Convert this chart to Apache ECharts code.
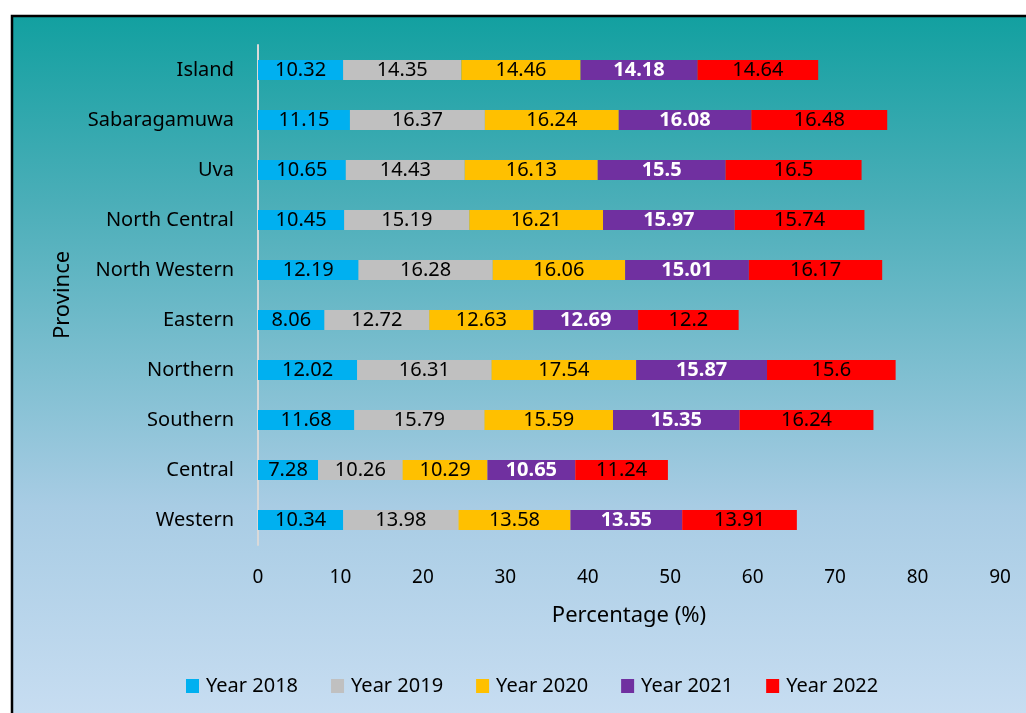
<!DOCTYPE html>
<html>
<head>
<meta charset="utf-8">
<script src="https://cdn.jsdelivr.net/npm/echarts@6/dist/echarts.min.js"></script>
<style>
html, body { margin:0; padding:0; background:#fff; }
#main { width:1026px; height:713px; }
</style>
</head>
<body>
<div id="main"></div>
<script>
// provinces, bottom to top as on the axis
var provinces = ['Western','Central','Southern','Northern','Eastern','North Western','North Central','Uva','Sabaragamuwa','Island'];
var yearNames = ['Year 2018','Year 2019','Year 2020','Year 2021','Year 2022'];
var year2018 = [10.34, 7.28, 11.68, 12.02, 8.06, 12.19, 10.45, 10.65, 11.15, 10.32];
var year2019 = [13.98, 10.26, 15.79, 16.31, 12.72, 16.28, 15.19, 14.43, 16.37, 14.35];
var year2020 = [13.58, 10.29, 15.59, 17.54, 12.63, 16.06, 16.21, 16.13, 16.24, 14.46];
var year2021 = [13.55, 10.65, 15.35, 15.87, 12.69, 15.01, 15.97, 15.5, 16.08, 14.18];
var year2022 = [13.91, 11.24, 16.24, 15.6, 12.2, 16.17, 15.74, 16.5, 16.48, 14.64];
var xTicks = [0, 10, 20, 30, 40, 50, 60, 70, 80, 90];

var colors = ['#00b0f0','#c0c0c0','#ffc000','#7030a0','#ff0000'];
var allData = [year2018, year2019, year2020, year2021, year2022];
var FONT = 'Noto Sans';

var chart = echarts.init(document.getElementById('main'));

var series = [];
for (var i = 0; i < yearNames.length; i++) {
	var white = (i == 3);
	series.push({
		name: yearNames[i],
		type: 'bar',
		stack: 'total',
		barWidth: 20,
		itemStyle: { color: colors[i] },
		label: {
			show: true,
			position: 'inside',
			fontFamily: FONT,
			fontSize: 20,
			color: white ? '#fff' : '#000',
			fontWeight: white ? 'bold' : 'normal'
		},
		data: allData[i]
	});
}

var option = {
	animation: false,
	color: colors,
	textStyle: { fontFamily: FONT },
	graphic: [{
		type: 'rect',
		z: -10,
		silent: true,
		shape: { x: 12, y: 16, width: 1030, height: 710 },
		style: {
			fill: {
				type: 'linear', x: 0, y: 0, x2: 0, y2: 1,
				colorStops: [
					{ offset: 0, color: '#12a0a0' },
					{ offset: 0.26, color: '#4aaeb8' },
					{ offset: 0.69, color: '#a8cce4' },
					{ offset: 1, color: '#c9def2' }
				]
			},
			stroke: '#000',
			lineWidth: 2.5
		}
	}],
	legend: {
		data: yearNames,
		left: 181,
		top: 671,
		itemWidth: 13,
		itemHeight: 14,
		itemGap: 33,
		icon: 'rect',
		textStyle: { fontFamily: FONT, fontSize: 20, color: '#000', padding: [0, 0, 0, 2] }
	},
	grid: { left: 258, right: 26, top: 45, height: 500, containLabel: false },
	xAxis: {
		type: 'value',
		min: 0,
		max: 90,
		interval: 10,
		name: 'Percentage (%)',
		nameLocation: 'middle',
		nameGap: 60,
		nameTextStyle: { fontFamily: FONT, fontSize: 22, color: '#000' },
		axisLine: { show: false },
		axisTick: { show: false },
		splitLine: { show: false },
		axisLabel: {
			fontFamily: FONT, fontSize: 19, color: '#000', margin: 23,
			formatter: function (v) { return xTicks.indexOf(v) >= 0 ? String(v) : ''; }
		}
	},
	yAxis: {
		type: 'category',
		data: provinces,
		name: 'Province',
		nameLocation: 'middle',
		nameGap: 184,
		nameRotate: 90,
		nameTextStyle: { fontFamily: FONT, fontSize: 22, color: '#000' },
		axisLine: { show: true, lineStyle: { color: '#d9d9d9', width: 2 } },
		axisTick: { show: false },
		axisLabel: { fontFamily: FONT, fontSize: 20, color: '#000', margin: 24 }
	},
	series: series
};

chart.setOption(option);
</script>
</body>
</html>
